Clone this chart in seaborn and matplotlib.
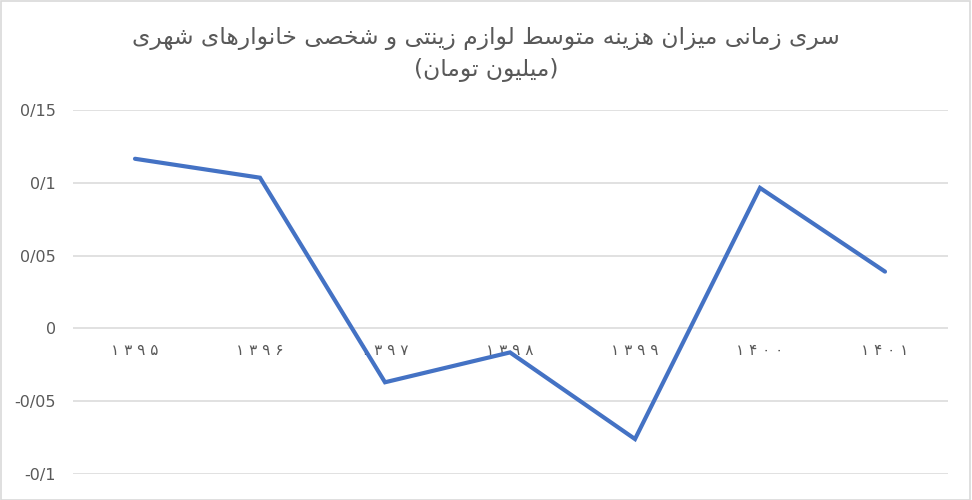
import matplotlib
matplotlib.use("Agg")
import matplotlib.pyplot as plt
import seaborn as sns
import pandas as pd

years = ["۱۳۹۵", "۱۳۹۶", "۱۳۹۷", "۱۳۹۸", "۱۳۹۹", "۱۴۰۰", "۱۴۰۱"]
values = [0.1165, 0.1035, -0.037, -0.0165, -0.076, 0.0965, 0.039]
y_ticks = [-0.1, -0.05, 0, 0.05, 0.1, 0.15]
y_tick_labels = ["-0/1", "-0/05", "0", "0/05", "0/1", "0/15"]
title_lines = ["سری زمانی میزان هزینه متوسط لوازم زینتی و شخصی خانوارهای شهری",
               "(میلیون تومان)"]

# presentation forms: isolated, final, initial, medial
FORMS = {
    "ا": ("\uFE8D", "\uFE8E"), "ر": ("\uFEAD", "\uFEAE"),
    "ز": ("\uFEAF", "\uFEB0"), "و": ("\uFEED", "\uFEEE"),
    "س": ("\uFEB1", "\uFEB2", "\uFEB3", "\uFEB4"),
    "ش": ("\uFEB5", "\uFEB6", "\uFEB7", "\uFEB8"),
    "ص": ("\uFEB9", "\uFEBA", "\uFEBB", "\uFEBC"),
    "ط": ("\uFEC1", "\uFEC2", "\uFEC3", "\uFEC4"),
    "خ": ("\uFEA5", "\uFEA6", "\uFEA7", "\uFEA8"),
    "ت": ("\uFE95", "\uFE96", "\uFE97", "\uFE98"),
    "ل": ("\uFEDD", "\uFEDE", "\uFEDF", "\uFEE0"),
    "م": ("\uFEE1", "\uFEE2", "\uFEE3", "\uFEE4"),
    "ن": ("\uFEE5", "\uFEE6", "\uFEE7", "\uFEE8"),
    "ه": ("\uFEE9", "\uFEEA", "\uFEEB", "\uFEEC"),
    "ی": ("\uFBFC", "\uFBFD", "\uFBFE", "\uFBFF"),
}
MIRROR = {"(": ")", ")": "("}


def shape_rtl(text):
    out = []
    n = len(text)
    for i, ch in enumerate(text):
        if ch not in FORMS:
            out.append(ch)
            continue
        prev = text[i - 1] if i > 0 else ""
        nxt = text[i + 1] if i < n - 1 else ""
        join_prev = prev in FORMS and len(FORMS[prev]) == 4
        join_next = len(FORMS[ch]) == 4 and nxt in FORMS
        f = FORMS[ch]
        if join_prev and join_next:
            out.append(f[3])
        elif join_prev:
            out.append(f[1])
        elif join_next:
            out.append(f[2])
        else:
            out.append(f[0])
    return "".join(MIRROR.get(c, c) for c in reversed(out))


df = pd.DataFrame({"pos": range(len(years)), "value": values})

sns.set_style("white")
plt.rcParams["font.family"] = ["DejaVu Sans"]

fig = plt.figure(figsize=(9.72, 5), dpi=100)
ax = fig.add_axes([72.5 / 972, 1 - 474 / 500, 875 / 972, 364 / 500])

for t in y_ticks:
    ax.axhline(t, color="#D9D9D9", lw=1.1, zorder=0)

sns.lineplot(data=df, x="pos", y="value", ax=ax, color="#4472C4",
             lw=3.0, zorder=3, solid_capstyle="round", solid_joinstyle="miter")

ax.set_xlim(-0.5, 6.5)
ax.set_ylim(-0.1, 0.15)
ax.set_yticks(y_ticks)
ax.set_yticklabels(y_tick_labels, fontsize=11.5, color="#595959")
ax.tick_params(axis="y", length=0, pad=12)
ax.set_xticks([])
ax.set_xlabel("")
ax.set_ylabel("")
for s in ax.spines.values():
    s.set_visible(False)

for i, yr in enumerate(years):
    ax.text(i, -0.015, " ".join(yr), ha="center", va="center",
            fontsize=11, color="#595959", zorder=2)

fig.text(0.5, 1 - 38 / 500, shape_rtl(title_lines[0]), ha="center", va="center",
         fontsize=16.8, color="#595959")
fig.text(0.5, 1 - 70 / 500, shape_rtl(title_lines[1]), ha="center", va="center",
         fontsize=16.8, color="#595959")

border = plt.Rectangle((0.001, 0.001), 0.997, 0.997, transform=fig.transFigure,
                       fill=False, edgecolor="#D9D9D9", lw=1.2)
fig.patches.append(border)

fig.savefig("out.png", dpi=100, facecolor="white")
